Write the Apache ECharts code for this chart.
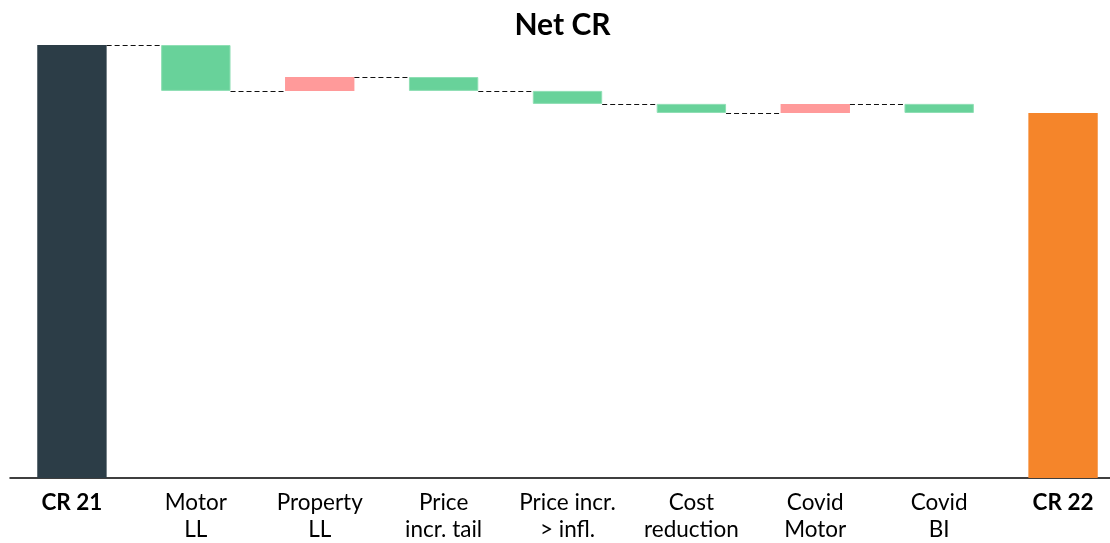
<!DOCTYPE html>
<html>
<head>
<meta charset="utf-8">
<script src="https://cdn.jsdelivr.net/npm/echarts@6/dist/echarts.min.js"></script>
<style>
  html, body { margin: 0; padding: 0; background: #fff; overflow: hidden; }
  #main { width: 1125px; height: 543px; }
</style>
</head>
<body>
<div id="main"></div>
<script>
var chartDom = document.getElementById('main');
var myChart = echarts.init(chartDom);

// data (arbitrary units, CR 21 = 100)
var categories = ['CR 21', 'Motor\nLL', 'Property\nLL', 'Price\nincr. tail', 'Price incr.\n> infl.', 'Cost\nreduction', 'Covid\nMotor', 'Covid\nBI', 'CR 22'];
var startValue = 100;
var changes = [-10.6, 3.2, -3.2, -3.0, -2.1, 2.1, -2.1];
var endValue = 84.3;

var barRatio = 0.56;

// build stacked waterfall pieces
var baseData = ['-'];
var upData = ['-'];
var downData = ['-'];
var levels = [startValue];
var running = startValue;
changes.forEach(function (c) {
    var next = running + c;
    baseData.push(Math.min(running, next));
    if (c > 0) {
        upData.push(c);
        downData.push('-');
    } else {
        downData.push(-c);
        upData.push('-');
    }
    running = next;
    levels.push(running);
});
baseData.push('-');
upData.push('-');
downData.push('-');

var totalData = [
    { value: startValue, itemStyle: { color: '#2c3d47' } }
];
for (var i = 0; i < changes.length; i++) totalData.push('-');
totalData.push({ value: endValue, itemStyle: { color: '#f5852a' } });

var connectorData = levels.map(function (v, idx) { return [idx, v]; });

var option = {
    animation: false,
    title: {
        text: 'Net CR',
        left: 'center',
        top: 5,
        textStyle: { fontFamily: 'Lato', fontSize: 30, fontWeight: 'bold', color: '#000' }
    },
    grid: { left: 10, right: 0, top: 45, bottom: 65, containLabel: false },
    xAxis: {
        type: 'category',
        data: categories,
        axisLine: { lineStyle: { color: '#000', width: 1.5 } },
        axisTick: { show: false },
        axisLabel: {
            interval: 0,
            margin: 11,
            fontFamily: 'Lato',
            fontSize: 22.5,
            lineHeight: 27,
            color: '#000',
            formatter: function (v, idx) {
                if (idx === 0 || idx === categories.length - 1) return '{b|' + v + '}';
                return v;
            },
            rich: {
                b: { fontFamily: 'Lato', fontSize: 22.5, fontWeight: 'bold', color: '#000', lineHeight: 27 }
            }
        }
    },
    yAxis: {
        type: 'value',
        min: 0,
        max: startValue,
        show: false,
        splitLine: { show: false }
    },
    series: [
        {
            name: 'base', type: 'bar', stack: 'w', barWidth: (barRatio * 100) + '%',
            itemStyle: { color: 'transparent' }, data: baseData
        },
        {
            name: 'down', type: 'bar', stack: 'w',
            itemStyle: { color: '#68d29a', borderColor: '#8fdfb4', borderWidth: 1 }, data: downData
        },
        {
            name: 'up', type: 'bar', stack: 'w',
            itemStyle: { color: '#ff9a9a' }, data: upData
        },
        {
            name: 'total', type: 'bar', stack: 'w', data: totalData
        },
        {
            name: 'connector', type: 'custom', z: 5,
            data: connectorData.slice(0, connectorData.length - 1),
            renderItem: function (params, api) {
                var p = api.coord([api.value(0), api.value(1)]);
                var step = api.size([1, 0])[0];
                var half = step * barRatio / 2;
                return {
                    type: 'line',
                    shape: { x1: p[0] + half, y1: Math.round(p[1]) + 0.5, x2: p[0] + step - half, y2: Math.round(p[1]) + 0.5 },
                    style: { stroke: '#111', lineWidth: 1, lineDash: [5, 3] }
                };
            }
        }
    ]
};
option && myChart.setOption(option);
</script>
</body>
</html>
